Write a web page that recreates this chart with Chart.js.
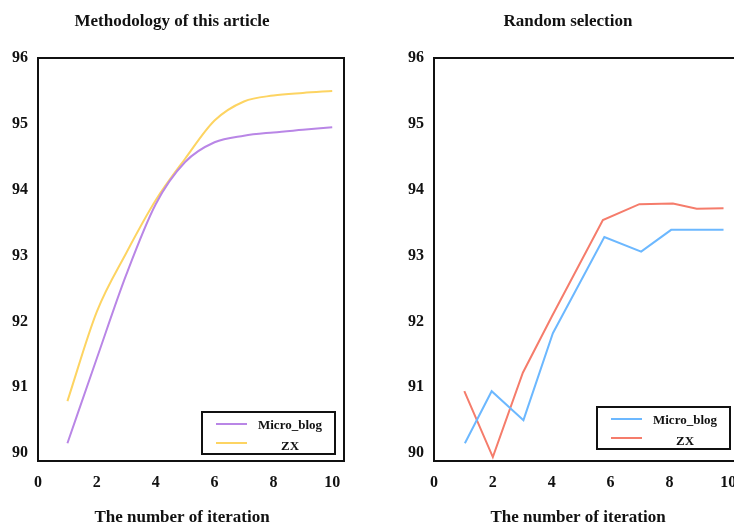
<!DOCTYPE html>
<html>
<head>
<meta charset="utf-8">
<script src="https://cdn.jsdelivr.net/npm/chart.js@4/dist/chart.umd.min.js"></script>
<style>
  html, body { margin: 0; padding: 0; background: #fff; overflow: hidden; }
  body { width: 734px; height: 523px; position: relative; }
  .panel { position: absolute; top: 0; width: 367px; height: 523px; }
  #left { left: 0; }
  #right { left: 396px; }
</style>
</head>
<body>
<div class="panel" id="left"><canvas id="methodChart"></canvas></div>
<div class="panel" id="right"><canvas id="randomChart"></canvas></div>
<script>
// left panel: methodology of this article
const iterations = [1, 2, 3, 4, 5, 6, 7, 8, 9, 10];
const methodMicroBlog = [90.15, 91.44, 92.71, 93.78, 94.42, 94.72, 94.82, 94.87, 94.91, 94.95];
const methodZX = [90.79, 92.15, 93.04, 93.84, 94.47, 95.05, 95.34, 95.43, 95.47, 95.5];

// right panel: random selection
const randomBlogIter = [1.05, 1.96, 3.04, 4.04, 5.79, 7.04, 8.06, 9.84];
const randomMicroBlog = [90.15, 90.94, 90.5, 91.82, 93.28, 93.06, 93.39, 93.39];
const randomZxIter = [1.03, 2.0, 3.02, 4.0, 5.74, 6.98, 8.12, 8.93, 9.84];
const randomZX = [90.94, 89.94, 91.22, 92.07, 93.54, 93.78, 93.79, 93.71, 93.72];

const xTicks = [0, 2, 4, 6, 8, 10];
const yTicks = [90, 91, 92, 93, 94, 95, 96];

const FONT = '"Liberation Serif", "Times New Roman", serif';

const decor = {
    id: 'decor',
    afterDraw(chart, args, opts) {
        const { ctx, chartArea: a } = chart;
        ctx.save();
        ctx.strokeStyle = '#111';
        ctx.lineWidth = 2;
        ctx.strokeRect(a.left, a.top, a.right - a.left, a.bottom - a.top);

        const mid = (a.left + a.right) / 2;
        ctx.fillStyle = '#111';
        ctx.textAlign = 'center';
        ctx.textBaseline = 'middle';
        ctx.font = 'bold 17px ' + FONT;
        ctx.fillText(opts.title, mid - 19, 22);
        ctx.fillText(opts.xTitle, mid - 9, a.bottom + 57);

        // legend box
        const bx = a.right - opts.legendRight - 133;
        const by = a.bottom - opts.legendBottom - 42;
        ctx.strokeRect(bx, by, 133, 42);
        ctx.font = 'bold 13px ' + FONT;
        chart.data.datasets.forEach((ds, i) => {
            const ly = by + 12 + i * 19;
            ctx.strokeStyle = ds.borderColor;
            ctx.beginPath();
            ctx.moveTo(bx + 14, ly);
            ctx.lineTo(bx + 45, ly);
            ctx.stroke();
            ctx.fillText(ds.label, bx + 88, by + 13.5 + i * 21.5);
        });
        ctx.restore();
    }
};

function points(xs, ys) {
    return xs.map((x, i) => ({ x: x, y: ys[i] }));
}

function makeChart(id, datasets, decorOpts) {
    const tickFont = { family: FONT, size: 16, weight: 'bold' };
    return new Chart(document.getElementById(id), {
        type: 'line',
        data: { datasets: datasets },
        options: {
            responsive: true,
            maintainAspectRatio: false,
            animation: false,
            layout: { padding: { top: 58, right: 23, left: 0, bottom: 0 } },
            elements: { point: { radius: 0 }, line: { borderWidth: 2 } },
            plugins: {
                legend: { display: false },
                tooltip: { enabled: false },
                decor: decorOpts
            },
            scales: {
                x: {
                    type: 'linear',
                    min: 0,
                    max: 10.4,
                    grid: { display: false, drawTicks: false },
                    border: { display: false },
                    ticks: { font: tickFont, color: '#111', padding: 12, maxRotation: 0 },
                    afterBuildTicks: s => { s.ticks = xTicks.map(v => ({ value: v })); },
                    afterFit: s => { s.height = 62; }
                },
                y: {
                    min: 89.88,
                    max: 96,
                    grid: { display: false, drawTicks: false },
                    border: { display: false },
                    ticks: { font: tickFont, color: '#111', padding: 10 },
                    afterBuildTicks: s => { s.ticks = yTicks.map(v => ({ value: v })); },
                    afterFit: s => { s.width = 38; }
                }
            }
        },
        plugins: [decor]
    });
}

makeChart('methodChart', [
    {
        label: 'Micro_blog',
        data: points(iterations, methodMicroBlog),
        borderColor: '#b986e6',
        cubicInterpolationMode: 'monotone'
    },
    {
        label: 'ZX',
        data: points(iterations, methodZX),
        borderColor: '#fdd462',
        cubicInterpolationMode: 'monotone'
    }
], { title: 'Methodology of this article', xTitle: 'The number of iteration', legendRight: 9, legendBottom: 7 });

makeChart('randomChart', [
    {
        label: 'Micro_blog',
        data: points(randomBlogIter, randomMicroBlog),
        borderColor: '#6cb8ff',
        tension: 0
    },
    {
        label: 'ZX',
        data: points(randomZxIter, randomZX),
        borderColor: '#f57c6b',
        tension: 0
    }
], { title: 'Random selection', xTitle: 'The number of iteration', legendRight: 10, legendBottom: 12 });
</script>
</body>
</html>
